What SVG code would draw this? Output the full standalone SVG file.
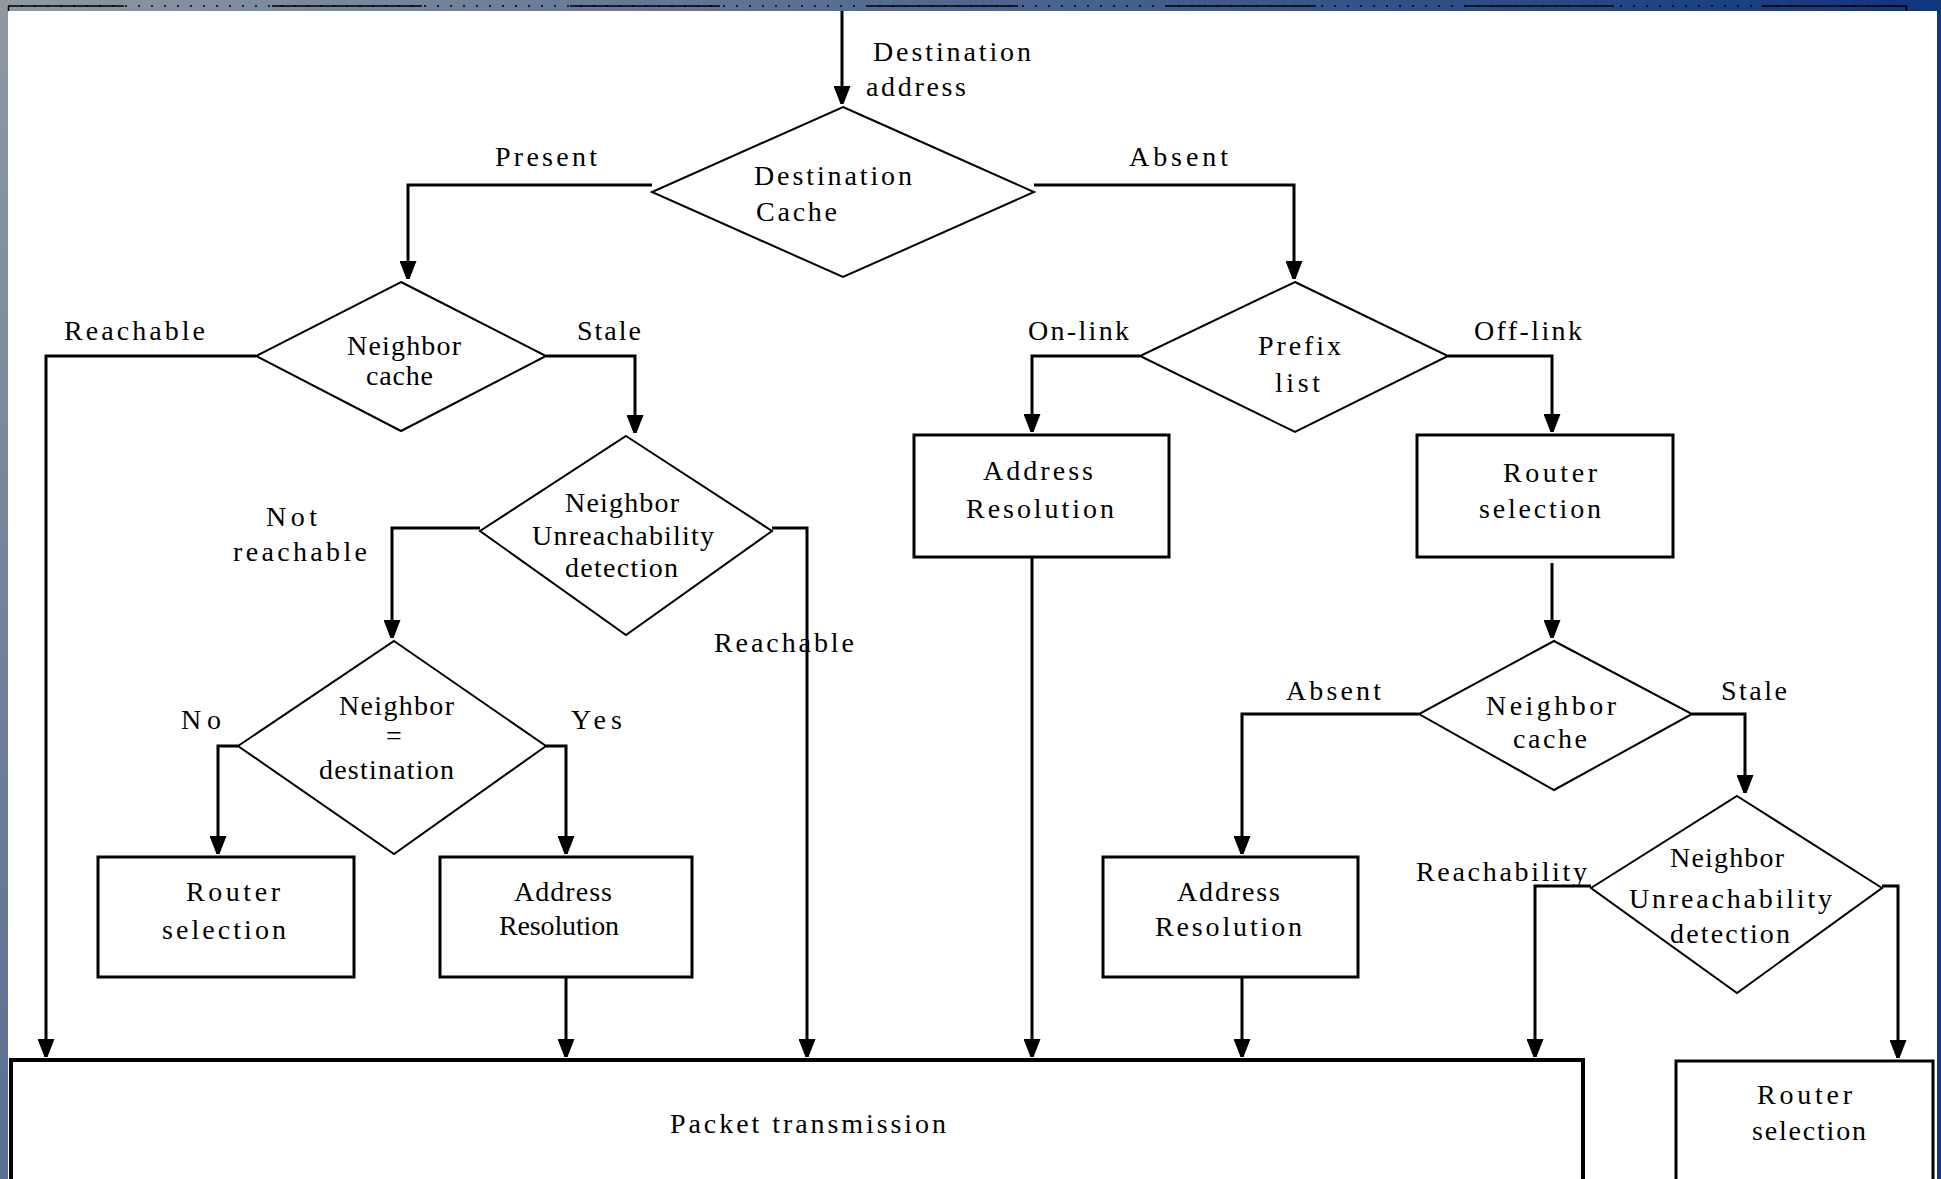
<svg xmlns="http://www.w3.org/2000/svg" width="1941" height="1179" viewBox="0 0 1941 1179">
<defs>
<linearGradient id="bg" gradientUnits="userSpaceOnUse" x1="0" y1="0" x2="1300" y2="900">
<stop offset="0" stop-color="#8e99a2"/>
<stop offset="1" stop-color="#10367f"/>
</linearGradient>
<marker id="arr" markerUnits="userSpaceOnUse" markerWidth="18" markerHeight="17" viewBox="0 0 18 17" refX="18" refY="8.5" orient="auto">
<path d="M0,0 L18,7 L18,10 L0,17 z" fill="#000"/>
</marker>
<style>
text{font-family:"Liberation Serif","Times New Roman",serif;font-size:28px;fill:#000;}
.c{fill:none;stroke:#000;stroke-width:3;marker-end:url(#arr);}
.box{fill:#fff;stroke:#000;stroke-width:3;}
.dia{fill:#fff;stroke:#000;stroke-width:2;}
.pk{fill:#fff;stroke:#000;stroke-width:4;}
</style>
</defs>
<rect x="0" y="0" width="1941" height="1179" fill="url(#bg)"/>
<rect x="8" y="11" width="1929" height="1168" fill="#fff"/>
<g id="frame-top">
<line x1="8" y1="6" x2="1907" y2="6" stroke="#000" stroke-width="1.5" stroke-dasharray="2 11"/>
<line x1="9" y1="6" x2="1907" y2="6" stroke="#000" stroke-width="1.5" stroke-dasharray="150 148" stroke-dashoffset="35"/>
<path d="M8.5,6 V11 M1906.5,6 V11" stroke="#000" stroke-width="1.5" fill="none"/>
</g>
<g id="connectors">
<path class="c" d="M842,11 V104"/>
<path class="c" d="M652,185 H408 V279"/>
<path class="c" d="M1034,185 H1294 V279"/>
<path class="c" d="M256,356 H46 V1057"/>
<path class="c" d="M546,356 H635 V433"/>
<path class="c" d="M480,528 H392 V638"/>
<path class="c" d="M772,528 H807 V1057"/>
<path class="c" d="M238,746 H218 V854"/>
<path class="c" d="M546,746 H566 V854"/>
<path class="c" d="M566,977 V1057"/>
<path class="c" d="M1140,356 H1032 V432"/>
<path class="c" d="M1448,356 H1552 V432"/>
<path class="c" d="M1032,557 V1057"/>
<path class="c" d="M1552,563 V638"/>
<path class="c" d="M1419,714 H1242 V854"/>
<path class="c" d="M1692,714 H1745 V793"/>
<path class="c" d="M1242,977 V1057"/>
<path class="c" d="M1591,886 H1535 V1057"/>
<path class="c" d="M1882,886 H1898 V1058"/>
</g>
<g id="edge-labels">
<text x="873" y="61" textLength="158">Destination</text>
<text x="866" y="96" textLength="100">address</text>
<text x="495" y="166" textLength="102">Present</text>
<text x="1129" y="166" textLength="99">Absent</text>
<text x="64" y="340" textLength="141">Reachable</text>
<text x="577" y="340" textLength="64">Stale</text>
<text x="266" y="526" textLength="51">Not</text>
<text x="233" y="561" textLength="134">reachable</text>
<text x="714" y="652" textLength="140">Reachable</text>
<text x="181" y="729" textLength="40">No</text>
<text x="571" y="729" textLength="51">Yes</text>
<text x="1028" y="340" textLength="101">On-link</text>
<text x="1474" y="340" textLength="108">Off-link</text>
<text x="1286" y="700" textLength="95">Absent</text>
<text x="1721" y="700" textLength="66">Stale</text>
<text x="1416" y="881" textLength="171">Reachability</text>
</g>
<g id="destination-cache">
<polygon class="dia" points="843,107 1034,192 843,277 652,192"/>
<text x="754" y="185" textLength="158">Destination</text>
<text x="756" y="221" textLength="81">Cache</text>
</g>
<g id="neighbor-cache-left">
<polygon class="dia" points="401,282 546,356 401,431 256,356"/>
<text x="347" y="355" textLength="114">Neighbor</text>
<text x="366" y="385" textLength="67">cache</text>
</g>
<g id="nud-left">
<polygon class="dia" points="626,436 772,531 626,635 480,531"/>
<text x="565" y="512" textLength="114">Neighbor</text>
<text x="532" y="545" textLength="182">Unreachability</text>
<text x="565" y="577" textLength="113">detection</text>
</g>
<g id="neighbor-eq-destination">
<polygon class="dia" points="394,641 546,746 394,854 238,746"/>
<text x="339" y="715" textLength="115">Neighbor</text>
<text x="394" y="745" text-anchor="middle">=</text>
<text x="319" y="779" textLength="135">destination</text>
</g>
<g id="router-selection-left">
<rect class="box" x="98" y="857" width="256" height="120"/>
<text x="186" y="901" textLength="94">Router</text>
<text x="162" y="939" textLength="124">selection</text>
</g>
<g id="address-resolution-left">
<rect class="box" x="440" y="857" width="252" height="120"/>
<text x="514" y="901" textLength="98">Address</text>
<text x="499" y="935" textLength="120">Resolution</text>
</g>
<g id="packet-transmission">
<rect class="pk" x="11" y="1060" width="1572" height="121"/>
<text x="670" y="1133" textLength="276">Packet transmission</text>
</g>
<g id="prefix-list">
<polygon class="dia" points="1295,282 1448,356 1295,432 1140,356"/>
<text x="1258" y="355" textLength="83">Prefix</text>
<text x="1275" y="392" textLength="45">list</text>
</g>
<g id="address-resolution-mid">
<rect class="box" x="914" y="435" width="255" height="122"/>
<text x="983" y="480" textLength="110">Address</text>
<text x="966" y="518" textLength="148">Resolution</text>
</g>
<g id="router-selection-right">
<rect class="box" x="1417" y="435" width="256" height="122"/>
<text x="1503" y="482" textLength="94">Router</text>
<text x="1479" y="518" textLength="122">selection</text>
</g>
<g id="neighbor-cache-right">
<polygon class="dia" points="1554,641 1692,714 1554,790 1419,714"/>
<text x="1486" y="715" textLength="130">Neighbor</text>
<text x="1513" y="748" textLength="74">cache</text>
</g>
<g id="address-resolution-right">
<rect class="box" x="1103" y="857" width="255" height="120"/>
<text x="1177" y="901" textLength="103">Address</text>
<text x="1155" y="936" textLength="147">Resolution</text>
</g>
<g id="nud-right">
<polygon class="dia" points="1737,796 1882,888 1737,993 1591,888"/>
<text x="1670" y="867" textLength="114">Neighbor</text>
<text x="1629" y="908" textLength="203">Unreachability</text>
<text x="1670" y="943" textLength="120">detection</text>
</g>
<g id="router-selection-bottom-right">
<rect class="box" x="1676" y="1061" width="257" height="121"/>
<text x="1757" y="1104" textLength="95">Router</text>
<text x="1752" y="1140" textLength="114">selection</text>
</g>
</svg>
